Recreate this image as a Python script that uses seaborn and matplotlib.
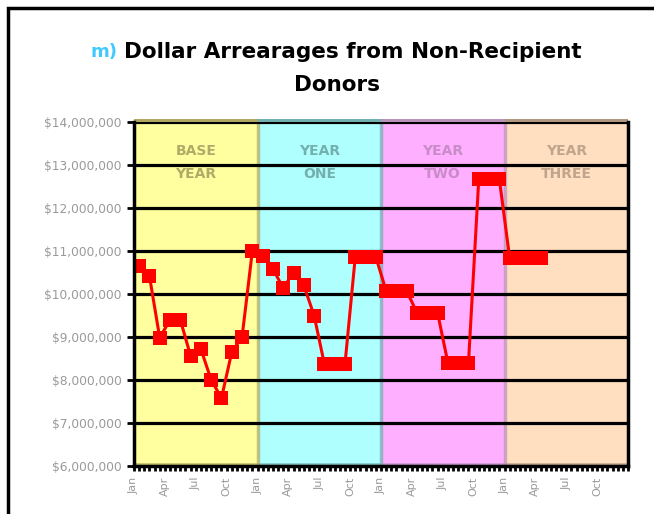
import numpy as np
import pandas as pd
import matplotlib
matplotlib.use('Agg')
import matplotlib.pyplot as plt
import seaborn as sns
from matplotlib.patches import Rectangle

# 데이터: 월별 달러 체납액 (백만 달러 단위)
base_year = [10.65, 10.42, 8.98, 9.40, 9.40, 8.56, 8.72, 8.00, 7.58, 8.65, 9.00, 11.00]
year_one = [10.88, 10.58, 10.14, 10.50, 10.20, 9.50, 8.37, 8.37, 8.37, 10.86, 10.86, 10.86]
year_two = [10.07, 10.07, 10.07, 9.56, 9.56, 9.56, 8.40, 8.40, 8.40, 12.67, 12.67, 12.67]
year_three = [10.84, 10.84, 10.84, 10.84]

band_top = ['BASE', 'YEAR', 'YEAR', 'YEAR']
band_bottom = ['YEAR', 'ONE', 'TWO', 'THREE']
band_colors = ['#ffff9f', '#afffff', '#ffafff', '#ffdfc0']
band_edges = ['#b0a860', '#70b0b0', '#b890b8', '#b09880']
band_text_colors = ['#b0ac68', '#74b0b0', '#c88cc8', '#c0a48c']

month_labels = ['Jan', 'Apr', 'Jul', 'Oct']
y_ticks = [6, 7, 8, 9, 10, 11, 12, 13, 14]
y_tick_labels = ['$%d,000,000' % v for v in y_ticks]

values = base_year + year_one + year_two + year_three
df = pd.DataFrame({'month': np.arange(len(values)) + 0.5,
                   'value': values})

sns.set_style('white')
plt.rcParams['font.family'] = ['DejaVu Sans']

fig = plt.figure(figsize=(6.54, 5.14), dpi=100)
ax = fig.add_axes([134 / 654, 1 - 466 / 514, 494 / 654, 344 / 514])

# 연도별 배경 밴드
for i in range(4):
    ax.axvspan(i * 12, (i + 1) * 12, color=band_colors[i], zorder=0, lw=0)
    ax.add_patch(Rectangle((i * 12, 14.0), 12, 0.08, facecolor=band_edges[i],
                           lw=0, clip_on=False, zorder=1))
    ax.add_patch(Rectangle((i * 12, 6.0), 12, 0.08, facecolor=band_edges[i],
                           alpha=0.6, lw=0, zorder=1))
    if i > 0:
        ax.axvline(i * 12, color=band_edges[i - 1], lw=2.5, alpha=0.7, zorder=1)
    ax.text(i * 12 + 6, 13.33, band_top[i], ha='center', va='center',
            fontsize=10, fontweight='bold', color=band_text_colors[i], zorder=2)
    ax.text(i * 12 + 6, 12.79, band_bottom[i], ha='center', va='center',
            fontsize=10, fontweight='bold', color=band_text_colors[i], zorder=2)

# 가로 눈금선
for v in y_ticks:
    ax.axhline(v, color='black', lw=2.3, zorder=3)

sns.lineplot(data=df, x='month', y='value', ax=ax, color='#ff0000', lw=2.2,
             marker='s', markersize=10.5, markeredgewidth=0, zorder=5)

ax.set_xlim(0, 48)
ax.set_ylim(6, 14)
ax.set_xlabel('')
ax.set_ylabel('')

ax.set_yticks(y_ticks)
ax.set_yticklabels(y_tick_labels, fontsize=8.8, color='#9a9a9a')
ax.set_xticks(np.arange(0, 48, 3))
ax.set_xticklabels(month_labels * 4, rotation=90, fontsize=8, color='#9a9a9a')
ax.set_xticks(np.arange(0, 48.1, 0.5), minor=True)
ax.tick_params(axis='y', which='major', direction='out', length=5, width=2,
               color='black', left=True, pad=4)
ax.tick_params(axis='x', which='both', direction='out', length=3.5, width=2,
               color='black', bottom=True, pad=4)

for side in ['left', 'right', 'bottom']:
    ax.spines[side].set_color('black')
    ax.spines[side].set_linewidth(2.5)
    ax.spines[side].set_zorder(6)
ax.spines['top'].set_visible(False)

# 제목
fig.text(90 / 654, 1 - 52 / 514, 'm)', color='#40c8ff', fontsize=13,
         fontweight='bold', ha='left', va='center')
fig.text(124 / 654, 1 - 52 / 514, 'Dollar Arrearages from Non-Recipient',
         color='black', fontsize=15.5, fontweight='bold', ha='left', va='center')
fig.text(337 / 654, 1 - 85 / 514, 'Donors', color='black', fontsize=15.5,
         fontweight='bold', ha='center', va='center')

# 차트 외곽 테두리
fig.add_artist(Rectangle((8 / 654, -0.1), 1.0, 1 - 8 / 514 + 0.1,
                         transform=fig.transFigure, fill=False,
                         edgecolor='black', lw=2.5))

fig.savefig('out.png', dpi=100)
